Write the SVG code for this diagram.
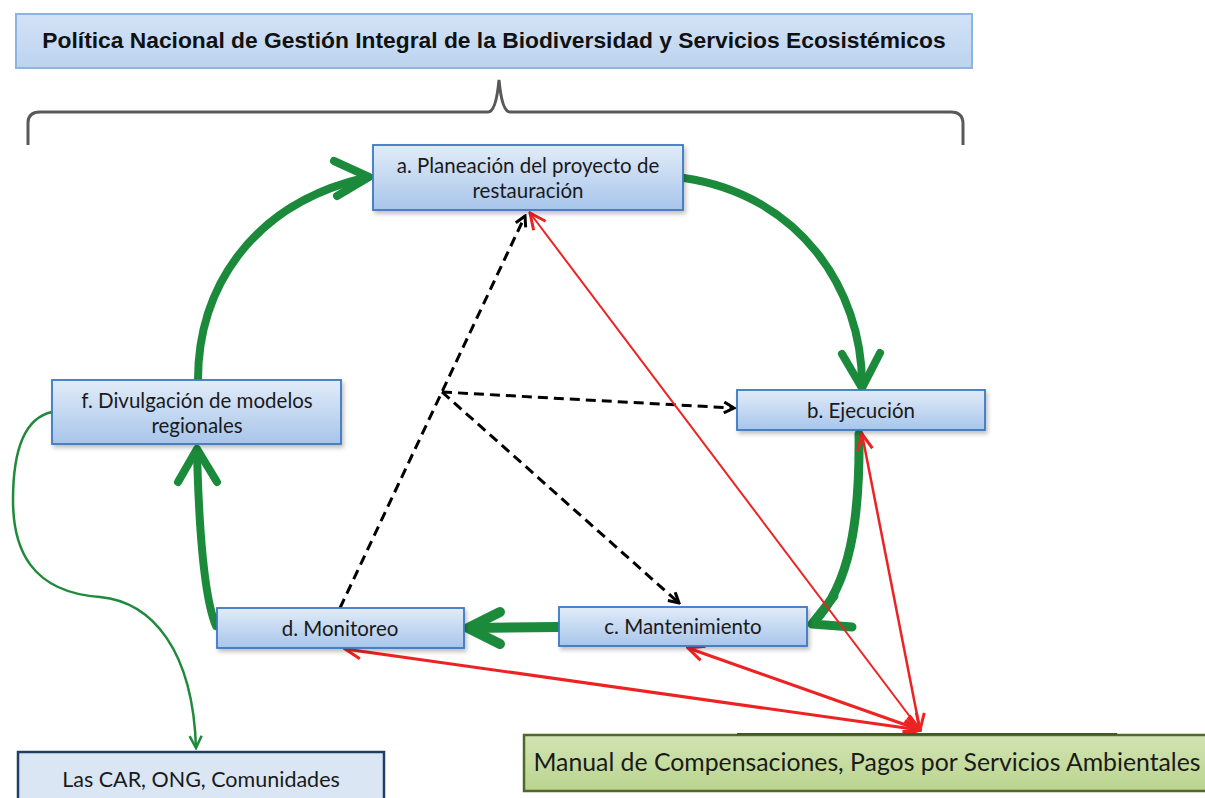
<svg xmlns="http://www.w3.org/2000/svg" width="1205" height="798" viewBox="0 0 1205 798">
<defs>
<linearGradient id="gBlue" x1="0" y1="0" x2="0" y2="1">
<stop offset="0" stop-color="#e2ecf9"/><stop offset="1" stop-color="#a7c5ea"/>
</linearGradient>
<linearGradient id="gTitle" x1="0" y1="0" x2="0" y2="1">
<stop offset="0" stop-color="#d3e3f6"/><stop offset="1" stop-color="#bcd3ef"/>
</linearGradient>
<linearGradient id="gGreen" x1="0" y1="0" x2="0" y2="1">
<stop offset="0" stop-color="#d2e4b3"/><stop offset="1" stop-color="#bad48f"/>
</linearGradient>
<filter id="sh" x="-10%" y="-20%" width="130%" height="160%">
<feDropShadow dx="2" dy="3" stdDeviation="2" flood-color="#000" flood-opacity="0.25"/>
</filter>
<marker id="mBlack" viewBox="0 0 14 14" refX="12" refY="7" markerWidth="14" markerHeight="14" markerUnits="userSpaceOnUse" orient="auto">
<path d="M2,1.5 L12,7 L2,12.5" fill="none" stroke="#000" stroke-width="3" stroke-linejoin="miter"/>
</marker>
<marker id="mRed" viewBox="0 0 20 20" refX="18" refY="10" markerWidth="20" markerHeight="20" markerUnits="userSpaceOnUse" orient="auto-start-reverse">
<path d="M2,2.5 L18,10 L2,17.5" fill="none" stroke="#ee2222" stroke-width="3"/>
</marker>
<marker id="mThin" viewBox="0 0 16 16" refX="14" refY="8" markerWidth="16" markerHeight="16" markerUnits="userSpaceOnUse" orient="auto">
<path d="M2,2 L14,8 L2,14" fill="none" stroke="#1f8a3b" stroke-width="2.5"/>
</marker>
</defs>
<style>
.node rect.blue{fill:url(#gBlue);stroke:#3a78c3;stroke-width:1.8;filter:url(#sh)}
.lbl{font-family:Lato,"Open Sans",sans-serif;font-size:20.5px;fill:#1a1a1a;text-anchor:middle}
.lbl.car{font-size:21.5px}
.lbl.man{font-size:24.8px}
.green{fill:none;stroke:#1b8a3b;stroke-linecap:round;stroke-linejoin:round}
.dash{fill:none;stroke:#000;stroke-width:3;stroke-dasharray:10 6;marker-end:url(#mBlack)}
.red{fill:none;stroke:#ee2222;marker-end:url(#mRed)}
</style>
<rect width="1205" height="798" fill="#ffffff"/>

<g id="title">
<rect x="16" y="14" width="956" height="54" fill="url(#gTitle)" stroke="#8db4e2" stroke-width="2"/>
<text x="494" y="48" font-family="'Liberation Sans',Arial,sans-serif" font-size="22.8" font-weight="bold" fill="#111" text-anchor="middle">Política Nacional de Gestión Integral de la Biodiversidad y Servicios Ecosistémicos</text>
</g>

<g id="bracket">
<path d="M28 145 L28 123 Q28 112 40 112 L488 112 Q496 112 499 80 Q502 112 510 112 L951 112 Q963 112 963 124 L963 145" fill="none" stroke="#595959" stroke-width="3"/>
</g>

<g id="connectors">
<!-- green cycle -->
<path class="green" stroke-width="8" d="M198 380 C198 290 250 205 364 178"/>
<polyline class="green" stroke-width="8" points="334,161 369,177 337,196"/>
<path class="green" stroke-width="8" d="M684 178 C800 195 862 290 862 384"/>
<polyline class="green" stroke-width="8" points="842,354 862,388 880,353"/>
<path class="green" stroke-width="9" d="M859 434 C860 520 850 585 814 622"/>
<polyline class="green" stroke-width="9" points="834,596 812,624 852,627"/>
<path class="green" stroke-width="10" d="M559 627 L472 628"/>
<polyline class="green" stroke-width="10" points="500,612 468,628 500,644"/>
<path class="green" stroke-width="8" d="M216 626 C205 600 199 530 197 452"/>
<polyline class="green" stroke-width="8" points="178,482 197,449 217,482"/>
<!-- thin green to CAR -->
<path d="M52 412 C24 418 13 450 13 500 C13 548 30 592 100 597 C152 602 193 650 196 748" fill="none" stroke="#1f8a3b" stroke-width="2.5" marker-end="url(#mThin)"/>
<!-- dashed black -->
<path class="dash" d="M340 608 L525 216"/>
<path class="dash" d="M442 392 L734 408"/>
<path class="dash" d="M442 392 L679 603"/>
<!-- red -->
<path class="red" stroke-width="2" d="M920 730 L530 213" marker-start="url(#mRed)"/>
<path class="red" stroke-width="2.5" d="M920 730 L862 434" marker-start="url(#mRed)"/>
<path class="red" stroke-width="3.2" d="M920 730 L688 648" marker-start="url(#mRed)"/>
<path class="red" stroke-width="3.2" d="M920 730 L345 649" marker-start="url(#mRed)"/>
</g>

<g id="node-a" class="node">
<rect class="blue" x="373" y="145" width="310" height="65"/>
<text class="lbl" x="528" y="173">a. Planeación del proyecto de</text>
<text class="lbl" x="528" y="198">restauración</text>
</g>

<g id="node-b" class="node">
<rect class="blue" x="737" y="390" width="248" height="40"/>
<text class="lbl" x="861" y="418">b. Ejecución</text>
</g>

<g id="node-c" class="node">
<rect class="blue" x="559" y="607" width="248" height="39"/>
<text class="lbl" x="683" y="634">c. Mantenimiento</text>
</g>

<g id="node-d" class="node">
<rect class="blue" x="217" y="608" width="247" height="40"/>
<text class="lbl" x="340" y="636">d. Monitoreo</text>
</g>

<g id="node-f" class="node">
<rect class="blue" x="52" y="380" width="289" height="64"/>
<text class="lbl" x="197" y="408">f. Divulgación de modelos</text>
<text class="lbl" x="197" y="433">regionales</text>
</g>

<g id="node-car" class="node">
<rect x="18" y="752" width="366" height="60" fill="#dae6f3" stroke="#213f66" stroke-width="2.5"/>
<text class="lbl car" x="201" y="787">Las CAR, ONG, Comunidades</text>
</g>

<g id="node-manual" class="node">
<rect x="524" y="735" width="690" height="56" fill="url(#gGreen)" stroke="#4d6a2b" stroke-width="2.5"/>
<line x1="737" y1="734" x2="1117" y2="734" stroke="#3f5a22" stroke-width="2"/>
<text class="lbl man" x="867" y="771">Manual de Compensaciones, Pagos por Servicios Ambientales</text>
</g>
</svg>
